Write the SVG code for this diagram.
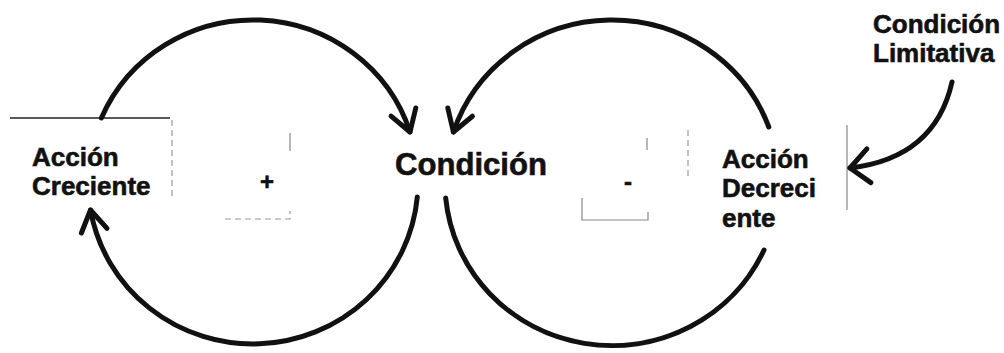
<svg xmlns="http://www.w3.org/2000/svg" width="1004" height="353" viewBox="0 0 1004 353">
<style>
.lbl{font-family:"Liberation Sans",Arial,sans-serif;font-weight:bold;font-size:26px;fill:#111;stroke:#111;stroke-width:0.6}
.main{font-size:31px}
.sign{font-size:24px}
.arc{fill:none;stroke:#111;stroke-width:5;stroke-linecap:round}
.faint{fill:none;stroke:#888;stroke-width:1.2}
.faintd{fill:none;stroke:#999;stroke-width:1.2;stroke-dasharray:6 4}
</style>
<defs>
<marker id="v" markerUnits="userSpaceOnUse" markerWidth="60" markerHeight="60" refX="0" refY="0" orient="auto" overflow="visible">
<path d="M -21 -13 L 0 0 L -21 13" fill="none" stroke="#111" stroke-width="5" stroke-linecap="round" stroke-linejoin="round"/>
</marker>
<marker id="vw" markerUnits="userSpaceOnUse" markerWidth="60" markerHeight="60" refX="0" refY="0" orient="auto" overflow="visible">
<path d="M -19 -17 L 0 0 L -19 17" fill="none" stroke="#111" stroke-width="5" stroke-linecap="round" stroke-linejoin="round"/>
</marker>
</defs>
<rect width="1004" height="353" fill="#fff"/>
<g id="frame-lines">
<path d="M 10 118 L 170 118" fill="none" stroke="#222" stroke-width="1.6"/>
<path class="faintd" d="M 172 120 L 172 200"/>
<path class="faint" d="M 290 133 L 290 151"/>
<path class="faintd" d="M 225 219 L 290 219 L 290 211"/>
<path class="faint" d="M 647 138 L 647 150"/>
<path class="faintd" d="M 688 130 L 688 180"/>
<path class="faint" d="M 582 198 L 582 220 L 648 220 L 648 212"/>
<path class="faint" d="M 847 125 L 847 210"/>
</g>
<g id="connectors">
<path class="arc" d="M 101.4 118 A 165 162 0 0 1 410 132" marker-end="url(#v)"/>
<path class="arc" d="M 417.3 197 A 165 162 0 0 1 90.5 210" marker-end="url(#v)"/>
<path class="arc" d="M 768.8 127 A 167 163 0 0 0 453.4 132" marker-end="url(#v)"/>
<path class="arc" d="M 445.7 198 A 167 163 0 0 0 764 250"/>
<path class="arc" d="M 952 82 Q 935 158 850 168" marker-end="url(#vw)"/>
</g>
<g id="node-condicion">
<text class="lbl main" x="395" y="175" textLength="152" lengthAdjust="spacingAndGlyphs">Condición</text>
</g>
<g id="node-accion-creciente">
<text class="lbl" x="32" y="166">Acción</text>
<text class="lbl" x="32" y="195">Creciente</text>
</g>
<g id="node-accion-decreciente">
<text class="lbl" x="722" y="168">Acción</text>
<text class="lbl" x="722" y="197">Decreci</text>
<text class="lbl" x="722" y="227">ente</text>
</g>
<g id="node-condicion-limitativa">
<text class="lbl" x="873" y="33">Condición</text>
<text class="lbl" x="873" y="62">Limitativa</text>
</g>
<g id="signs">
<text class="lbl sign" x="267" y="190" text-anchor="middle">+</text>
<text class="lbl sign" x="628" y="190" text-anchor="middle">-</text>
</g>
</svg>
